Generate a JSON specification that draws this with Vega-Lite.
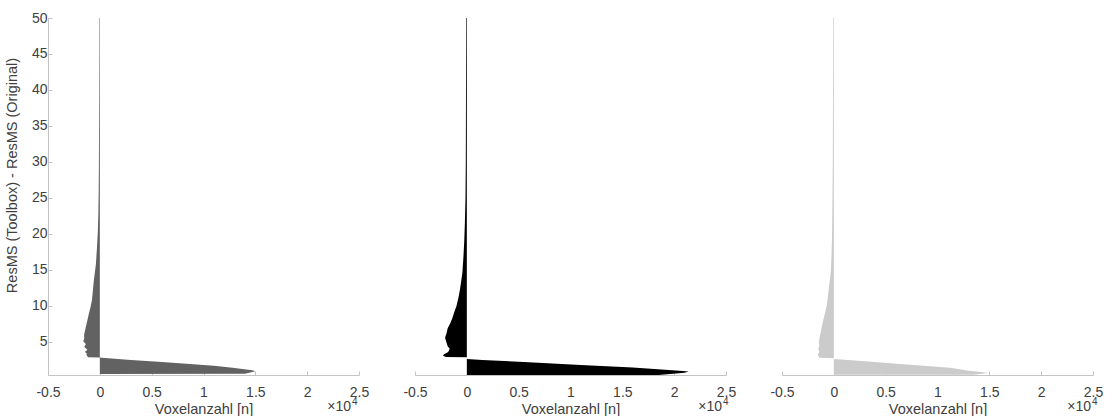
{
  "$schema": "https://vega.github.io/schema/vega-lite/v6.json",
  "padding": {"left": 4, "top": 11, "right": 0, "bottom": 0},
  "background": "white",
  "config": {
    "view": {"stroke": null},
    "font": "Liberation Sans",
    "axis": {
      "grid": false,
      "domainColor": "#c4c4c4",
      "tickColor": "#c4c4c4",
      "labelColor": "#404040",
      "titleColor": "#404040",
      "labelFont": "Liberation Sans",
      "titleFont": "Liberation Sans",
      "labelFontSize": 14,
      "titleFontSize": 14.5,
      "titleFontWeight": "normal",
      "tickSize": -4,
      "labelPadding": 14,
      "labelOverlap": false,
      "labelFlush": false
    }
  },
  "datasets": {
    "hist": [
      {"p": "A", "y": 0.55, "n": 0}, {"p": "A", "y": 0.57, "n": 14000}, {"p": "A", "y": 0.75, "n": 14500}, {"p": "A", "y": 0.92, "n": 15000}, {"p": "A", "y": 1.07, "n": 14700}, {"p": "A", "y": 1.4, "n": 12800}, {"p": "A", "y": 1.67, "n": 11000}, {"p": "A", "y": 1.9, "n": 9000}, {"p": "A", "y": 2.2, "n": 6000}, {"p": "A", "y": 2.5, "n": 3000}, {"p": "A", "y": 2.78, "n": 200}, {"p": "A", "y": 2.82, "n": 0}, {"p": "A", "y": 2.86, "n": -1150}, {"p": "A", "y": 3.0, "n": -1200}, {"p": "A", "y": 3.2, "n": -1300}, {"p": "A", "y": 3.4, "n": -1250}, {"p": "A", "y": 3.6, "n": -1450}, {"p": "A", "y": 3.9, "n": -1200}, {"p": "A", "y": 4.3, "n": -1500}, {"p": "A", "y": 4.7, "n": -1350}, {"p": "A", "y": 5.1, "n": -1600}, {"p": "A", "y": 5.5, "n": -1500}, {"p": "A", "y": 6.0, "n": -1520}, {"p": "A", "y": 6.9, "n": -1380}, {"p": "A", "y": 8.0, "n": -1200}, {"p": "A", "y": 8.9, "n": -1060}, {"p": "A", "y": 9.8, "n": -900}, {"p": "A", "y": 10.7, "n": -770}, {"p": "A", "y": 12, "n": -680}, {"p": "A", "y": 13.5, "n": -580}, {"p": "A", "y": 15.8, "n": -380}, {"p": "A", "y": 18, "n": -280}, {"p": "A", "y": 20.4, "n": -190}, {"p": "A", "y": 23, "n": -140}, {"p": "A", "y": 26, "n": -110}, {"p": "A", "y": 30, "n": -90}, {"p": "A", "y": 35, "n": -75}, {"p": "A", "y": 40, "n": -60}, {"p": "A", "y": 45, "n": -50}, {"p": "A", "y": 50, "n": -45},
      {"p": "B", "y": 0.4, "n": 0}, {"p": "B", "y": 0.41, "n": 18500}, {"p": "B", "y": 0.7, "n": 21000}, {"p": "B", "y": 0.87, "n": 21400}, {"p": "B", "y": 1.0, "n": 20500}, {"p": "B", "y": 1.43, "n": 16000}, {"p": "B", "y": 1.8, "n": 11000}, {"p": "B", "y": 2.2, "n": 5500}, {"p": "B", "y": 2.5, "n": 1500}, {"p": "B", "y": 2.62, "n": 0}, {"p": "B", "y": 2.85, "n": 0}, {"p": "B", "y": 2.9, "n": -2000}, {"p": "B", "y": 3.06, "n": -2300}, {"p": "B", "y": 3.3, "n": -2200}, {"p": "B", "y": 3.6, "n": -1800}, {"p": "B", "y": 4.03, "n": -1650}, {"p": "B", "y": 4.4, "n": -1850}, {"p": "B", "y": 4.86, "n": -1950}, {"p": "B", "y": 5.56, "n": -2100}, {"p": "B", "y": 6.25, "n": -1950}, {"p": "B", "y": 6.9, "n": -1850}, {"p": "B", "y": 7.6, "n": -1600}, {"p": "B", "y": 8.3, "n": -1400}, {"p": "B", "y": 9.2, "n": -1200}, {"p": "B", "y": 10, "n": -1000}, {"p": "B", "y": 11.2, "n": -800}, {"p": "B", "y": 12.4, "n": -650}, {"p": "B", "y": 14.6, "n": -430}, {"p": "B", "y": 17, "n": -320}, {"p": "B", "y": 19, "n": -250}, {"p": "B", "y": 21.5, "n": -190}, {"p": "B", "y": 25, "n": -130}, {"p": "B", "y": 30, "n": -100}, {"p": "B", "y": 35, "n": -90}, {"p": "B", "y": 40, "n": -80}, {"p": "B", "y": 45, "n": -70}, {"p": "B", "y": 50, "n": -60},
      {"p": "C", "y": 0.42, "n": 0}, {"p": "C", "y": 0.44, "n": 13500}, {"p": "C", "y": 0.69, "n": 14900}, {"p": "C", "y": 0.8, "n": 14200}, {"p": "C", "y": 1.0, "n": 13000}, {"p": "C", "y": 1.39, "n": 11200}, {"p": "C", "y": 1.94, "n": 6400}, {"p": "C", "y": 2.3, "n": 3000}, {"p": "C", "y": 2.55, "n": 700}, {"p": "C", "y": 2.64, "n": 0}, {"p": "C", "y": 2.74, "n": 0}, {"p": "C", "y": 2.78, "n": -1400}, {"p": "C", "y": 3.2, "n": -1550}, {"p": "C", "y": 3.6, "n": -1400}, {"p": "C", "y": 4.0, "n": -1500}, {"p": "C", "y": 4.5, "n": -1400}, {"p": "C", "y": 5.0, "n": -1450}, {"p": "C", "y": 5.7, "n": -1350}, {"p": "C", "y": 6.4, "n": -1260}, {"p": "C", "y": 7.8, "n": -1060}, {"p": "C", "y": 9, "n": -850}, {"p": "C", "y": 10.1, "n": -680}, {"p": "C", "y": 11.3, "n": -570}, {"p": "C", "y": 12.5, "n": -480}, {"p": "C", "y": 14.7, "n": -290}, {"p": "C", "y": 17, "n": -220}, {"p": "C", "y": 20, "n": -170}, {"p": "C", "y": 25, "n": -130}, {"p": "C", "y": 30, "n": -100}, {"p": "C", "y": 35, "n": -90}, {"p": "C", "y": 40, "n": -80}, {"p": "C", "y": 45, "n": -70}, {"p": "C", "y": 50, "n": -60}
    ],
    "exp": [{"base": "×10", "sup": "4"}]
  },
  "spacing": 56,
  "bounds": "flush",
  "hconcat": [
    {
      "width": 311, "height": 357,
      "layer": [
        {
          "data": {"name": "hist"},
          "transform": [{"filter": "datum.p === 'A'"}],
          "mark": {"type": "area", "orient": "horizontal", "color": "#626262"},
          "encoding": {
            "y": {"field": "y", "type": "quantitative", "scale": {"domain": [0.4, 50], "nice": false, "zero": false}, "axis": {"title": "ResMS (Toolbox) - ResMS (Original)", "values": [5, 10, 15, 20, 25, 30, 35, 40, 45, 50], "tickCount": 20, "labelOverlap": false, "labelFlush": false, "labelPadding": 5, "titlePadding": 12, "titleY": 157}},
            "x": {"field": "n", "type": "quantitative", "scale": {"domain": [-5000, 25000], "nice": false}, "axis": {"title": "Voxelanzahl [n]", "values": [-5000, 0, 5000, 10000, 15000, 20000, 25000], "tickCount": 20, "labelExpr": "'' + (datum.value / 10000)", "labelOverlap": false, "labelFlush": false, "titlePadding": 3}}
          }
        },
        {
          "data": {"name": "exp"},
          "mark": {"type": "text", "align": "right", "baseline": "alphabetic", "dx": -8, "dy": 36, "fontSize": 14, "color": "#404040", "font": "Liberation Sans"},
          "encoding": {"x": {"datum": 25000}, "y": {"datum": 0.4}, "text": {"field": "base"}}
        },
        {
          "data": {"name": "exp"},
          "mark": {"type": "text", "align": "left", "baseline": "alphabetic", "dx": -7, "dy": 30, "fontSize": 10, "color": "#404040", "font": "Liberation Sans"},
          "encoding": {"x": {"datum": 25000}, "y": {"datum": 0.4}, "text": {"field": "sup"}}
        }
      ]
    },
    {
      "width": 311, "height": 357,
      "layer": [
        {
          "data": {"name": "hist"},
          "transform": [{"filter": "datum.p === 'B'"}],
          "mark": {"type": "area", "orient": "horizontal", "color": "#000000"},
          "encoding": {
            "y": {"field": "y", "type": "quantitative", "scale": {"domain": [0.4, 50], "nice": false, "zero": false}, "axis": null},
            "x": {"field": "n", "type": "quantitative", "scale": {"domain": [-5000, 25000], "nice": false}, "axis": {"title": "Voxelanzahl [n]", "values": [-5000, 0, 5000, 10000, 15000, 20000, 25000], "tickCount": 20, "labelExpr": "'' + (datum.value / 10000)", "labelOverlap": false, "labelFlush": false, "titlePadding": 3}}
          }
        },
        {
          "data": {"name": "exp"},
          "mark": {"type": "text", "align": "right", "baseline": "alphabetic", "dx": -4, "dy": 36, "fontSize": 14, "color": "#404040", "font": "Liberation Sans"},
          "encoding": {"x": {"datum": 25000}, "y": {"datum": 0.4}, "text": {"field": "base"}}
        },
        {
          "data": {"name": "exp"},
          "mark": {"type": "text", "align": "left", "baseline": "alphabetic", "dx": -3, "dy": 30, "fontSize": 10, "color": "#404040", "font": "Liberation Sans"},
          "encoding": {"x": {"datum": 25000}, "y": {"datum": 0.4}, "text": {"field": "sup"}}
        }
      ]
    },
    {
      "width": 311, "height": 357,
      "layer": [
        {
          "data": {"name": "hist"},
          "transform": [{"filter": "datum.p === 'C'"}],
          "mark": {"type": "area", "orient": "horizontal", "color": "#cbcbcb"},
          "encoding": {
            "y": {"field": "y", "type": "quantitative", "scale": {"domain": [0.4, 50], "nice": false, "zero": false}, "axis": null},
            "x": {"field": "n", "type": "quantitative", "scale": {"domain": [-5000, 25000], "nice": false}, "axis": {"title": "Voxelanzahl [n]", "values": [-5000, 0, 5000, 10000, 15000, 20000, 25000], "tickCount": 20, "labelExpr": "'' + (datum.value / 10000)", "labelOverlap": false, "labelFlush": false, "titlePadding": 3}}
          }
        },
        {
          "data": {"name": "exp"},
          "mark": {"type": "text", "align": "right", "baseline": "alphabetic", "dx": -2, "dy": 36, "fontSize": 14, "color": "#404040", "font": "Liberation Sans"},
          "encoding": {"x": {"datum": 25000}, "y": {"datum": 0.4}, "text": {"field": "base"}}
        },
        {
          "data": {"name": "exp"},
          "mark": {"type": "text", "align": "left", "baseline": "alphabetic", "dx": -1, "dy": 30, "fontSize": 10, "color": "#404040", "font": "Liberation Sans"},
          "encoding": {"x": {"datum": 25000}, "y": {"datum": 0.4}, "text": {"field": "sup"}}
        }
      ]
    }
  ]
}
